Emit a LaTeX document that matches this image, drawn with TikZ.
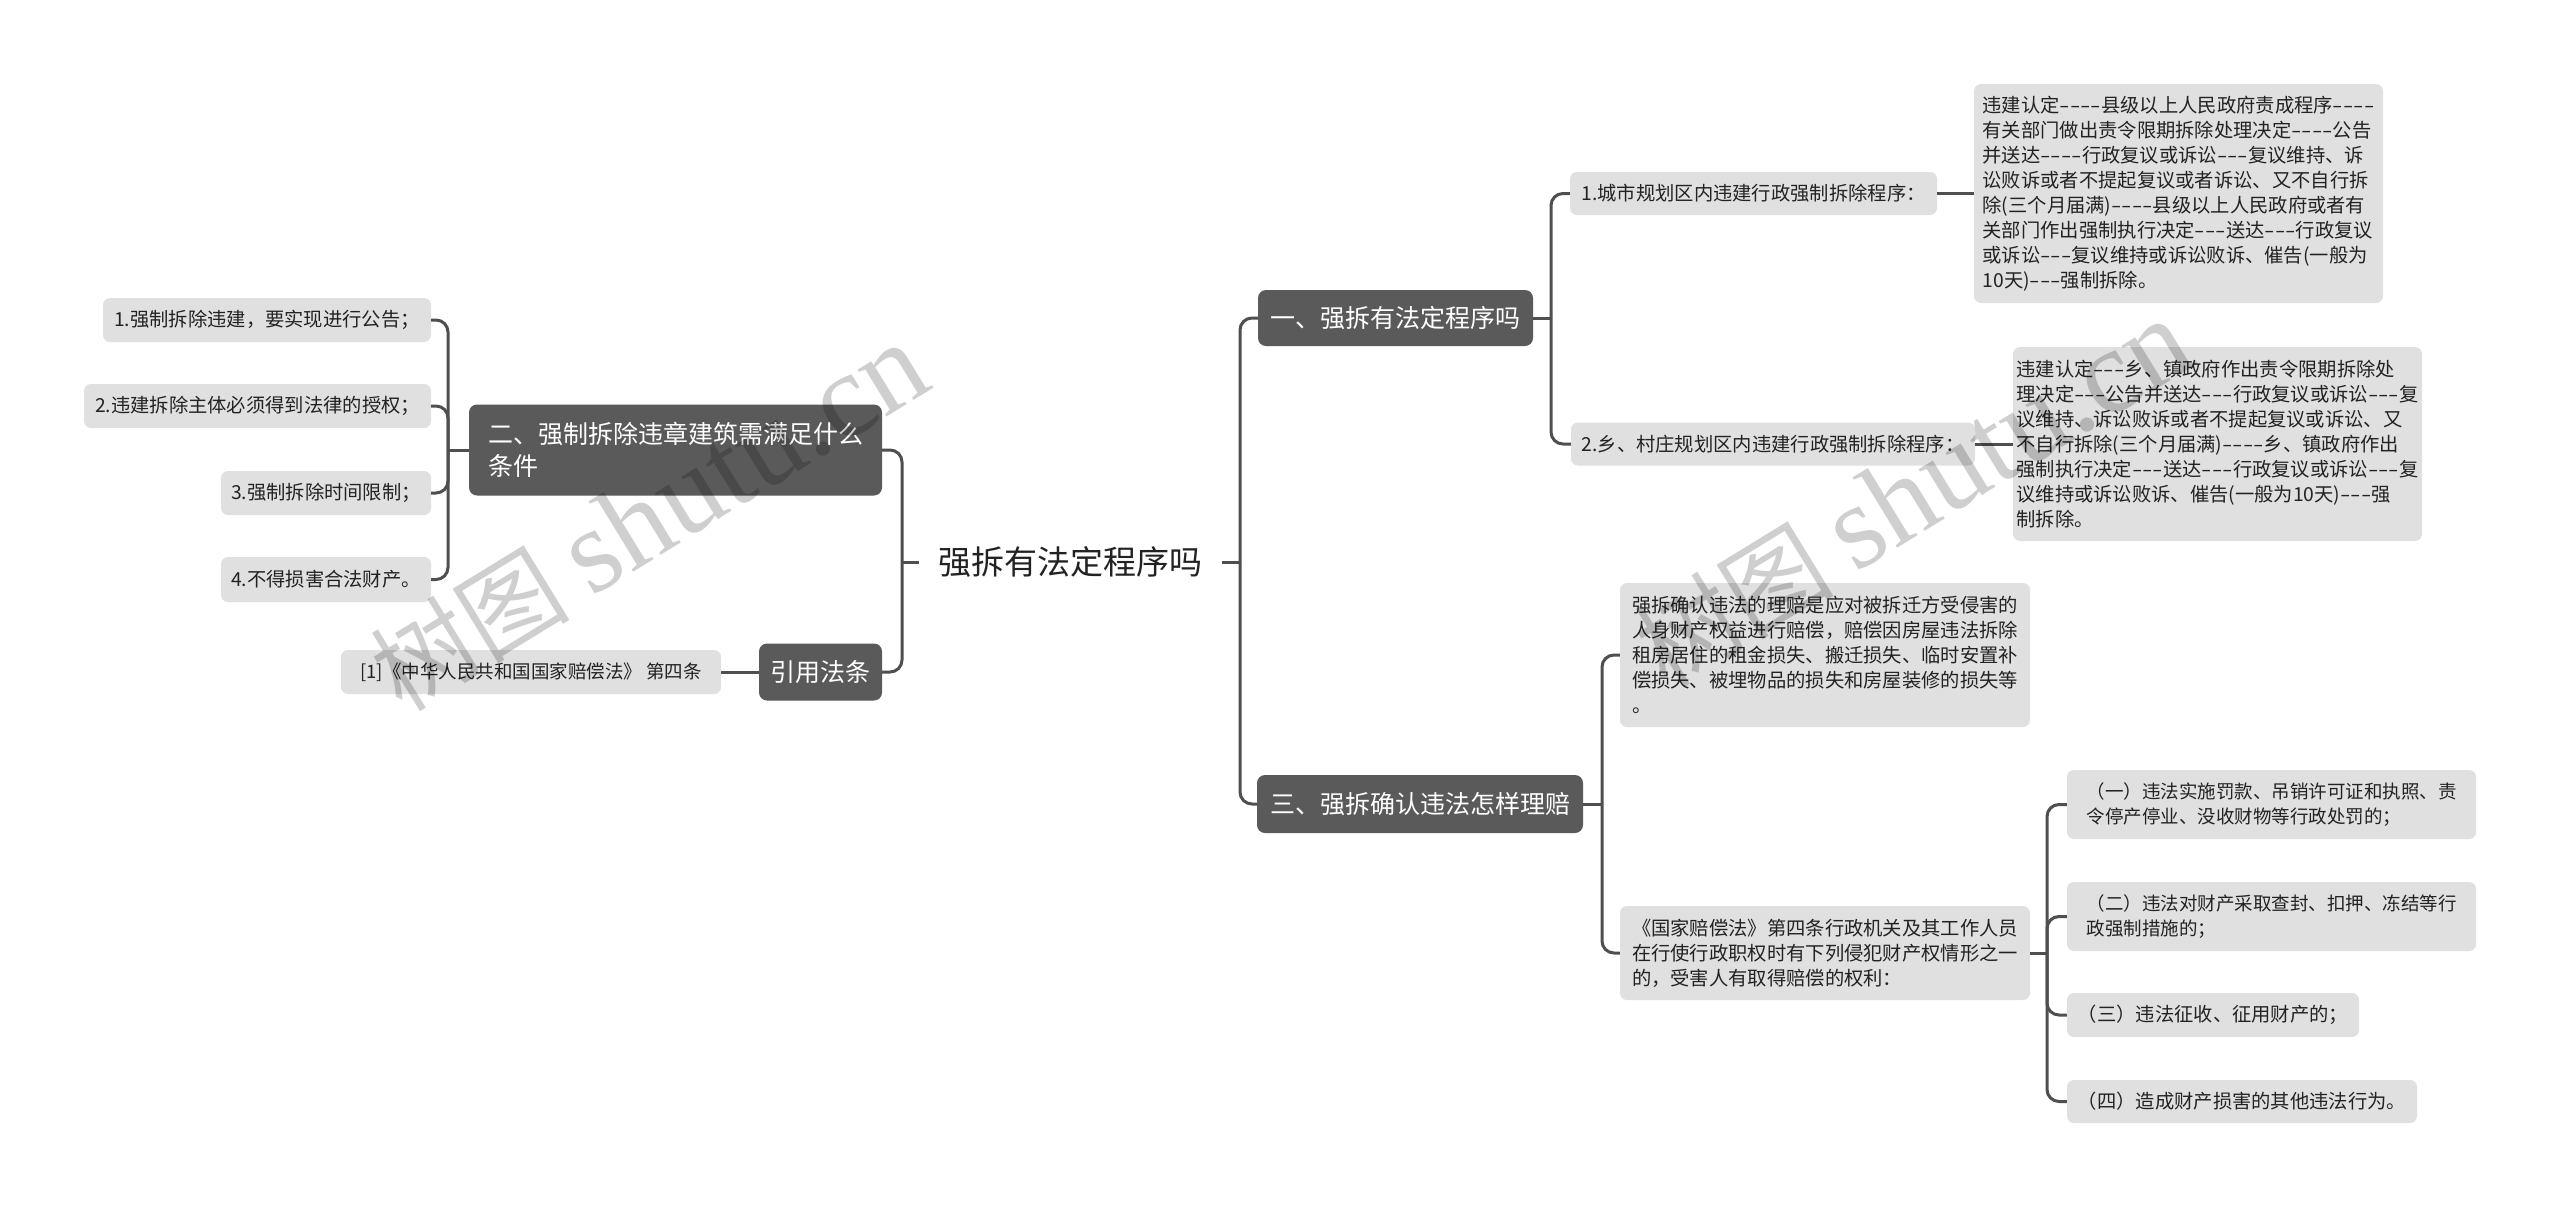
\documentclass[tikz,border=0pt]{standalone}
\usepackage{graphicx}
\usepackage{fontspec}
\setmainfont{Noto Sans CJK SC}
\newfontfamily\wmserif{Liberation Serif}
\newcommand\hy{\scalebox{1.55}[1]{-}}
\definecolor{leafc}{HTML}{E0E0E0}
\definecolor{darkc}{HTML}{5A5A5A}
\definecolor{linec}{HTML}{4F4F4F}
\definecolor{txtc}{HTML}{222222}
\begin{document}
\begin{tikzpicture}[x=1pt,y=-1pt,
  leaf/.style={fill=leafc, rounded corners=7pt, inner sep=0pt, align=left, text=txtc, font=\fontsize{19.3pt}{25pt}\selectfont},
  dark/.style={fill=darkc, rounded corners=8pt, inner sep=0pt, align=left, text=white, font=\fontsize{25pt}{32pt}\selectfont},
  conn/.style={draw=linec, line width=3pt, rounded corners=12pt},
  wm/.style={opacity=0.19, text=black, rotate=31.5, inner sep=0pt}]
\useasboundingbox (0,0) rectangle (2560,1208);
\fill[white] (0,0) rectangle (2560,1208);

% root
\node[inner sep=0pt, minimum width=303pt, minimum height=40pt, text=txtc, font=\fontsize{33pt}{40pt}\selectfont] (root) at (1070.5,562) {强拆有法定程序吗};

% right side
\node[dark, minimum width=275pt, minimum height=56pt] (n1) at (1395.5,318) {一、强拆有法定程序吗};
\node[dark, minimum width=326pt, minimum height=58pt] (n3) at (1420,804) {三、强拆确认违法怎样理赔};

\node[leaf, minimum width=367pt, minimum height=43pt] (a1) at (1753.5,193.5) {1.城市规划区内违建行政强制拆除程序：};
\node[leaf, minimum width=404pt, minimum height=43pt] (a2) at (1773,444) {2.乡、村庄规划区内违建行政强制拆除程序：};

\node[leaf, minimum width=409pt, minimum height=219pt] (b1) at (2178.5,193.5) {违建认定\hy\hy\hy\hy 县级以上人民政府责成程序\hy\hy\hy\hy\\有关部门做出责令限期拆除处理决定\hy\hy\hy\hy 公告\\并送达\hy\hy\hy\hy 行政复议或诉讼\hy\hy\hy 复议维持、诉\\讼败诉或者不提起复议或者诉讼、又不自行拆\\除(三个月届满)\hy\hy\hy\hy 县级以上人民政府或者有\\关部门作出强制执行决定\hy\hy\hy 送达\hy\hy\hy 行政复议\\或诉讼\hy\hy\hy 复议维持或诉讼败诉、催告(一般为\\10天)\hy\hy\hy 强制拆除。};
\node[leaf, minimum width=409pt, minimum height=194pt] (b2) at (2217.5,444) {违建认定\hy\hy\hy 乡、镇政府作出责令限期拆除处\\理决定\hy\hy\hy 公告并送达\hy\hy\hy 行政复议或诉讼\hy\hy\hy 复\\议维持、诉讼败诉或者不提起复议或诉讼、又\\不自行拆除(三个月届满)\hy\hy\hy\hy 乡、镇政府作出\\强制执行决定\hy\hy\hy 送达\hy\hy\hy 行政复议或诉讼\hy\hy\hy 复\\议维持或诉讼败诉、催告(一般为10天)\hy\hy\hy 强\\制拆除。};

\node[leaf, minimum width=410pt, minimum height=144pt] (c1) at (1825,655) {强拆确认违法的理赔是应对被拆迁方受侵害的\\人身财产权益进行赔偿，赔偿因房屋违法拆除\\租房居住的租金损失、搬迁损失、临时安置补\\偿损失、被埋物品的损失和房屋装修的损失等\\。};
\node[leaf, minimum width=410pt, minimum height=94pt] (c2) at (1825,953) {《国家赔偿法》第四条行政机关及其工作人员\\在行使行政职权时有下列侵犯财产权情形之一\\的，受害人有取得赔偿的权利：};

\node[leaf, minimum width=409pt, minimum height=69pt, font=\fontsize{18.5pt}{25pt}\selectfont] (d1) at (2271.5,804.5) {（一）违法实施罚款、吊销许可证和执照、责\\令停产停业、没收财物等行政处罚的；};
\node[leaf, minimum width=409pt, minimum height=69pt, font=\fontsize{18.5pt}{25pt}\selectfont] (d2) at (2271.5,916.5) {（二）违法对财产采取查封、扣押、冻结等行\\政强制措施的；};
\node[leaf, minimum width=292pt, minimum height=44pt] (d3) at (2213,1015) {（三）违法征收、征用财产的；};
\node[leaf, minimum width=350pt, minimum height=43pt] (d4) at (2242,1101.5) {（四）造成财产损害的其他违法行为。};

% left side
\node[dark, minimum width=413pt, minimum height=91pt] (n2) at (675.5,450) {二、强制拆除违章建筑需满足什么\\条件};
\node[dark, minimum width=123pt, minimum height=57pt] (nref) at (820.5,672) {引用法条};

\node[leaf, minimum width=328pt, minimum height=44pt] (e1) at (267,320) {1.强制拆除违建，要实现进行公告；};
\node[leaf, minimum width=347pt, minimum height=44pt] (e2) at (257.5,406) {2.违建拆除主体必须得到法律的授权；};
\node[leaf, minimum width=210pt, minimum height=44pt] (e3) at (326,493) {3.强制拆除时间限制；};
\node[leaf, minimum width=210pt, minimum height=45pt] (e4) at (326,579.5) {4.不得损害合法财产。};
\node[leaf, minimum width=380pt, minimum height=44pt, font=\fontsize{18.5pt}{25pt}\selectfont] (r1) at (531,672) {[1]《中华人民共和国国家赔偿法》 第四条};

% junctions
\coordinate (jr) at (1240,562);
\coordinate (jl) at (902,562);
\coordinate (j1) at (1551,318);
\coordinate (j3) at (1602,804);
\coordinate (j4) at (2047,953);
\coordinate (j2) at (448,450);

% connectors
\draw[conn] (root.east) -- (jr);
\draw[conn] (jr) |- (n1.west);
\draw[conn] (jr) |- (n3.west);
\draw[conn] (n1.east) -- (j1);
\draw[conn] (j1) |- (a1.west);
\draw[conn] (j1) |- (a2.west);
\draw[conn] (a1.east) -- (b1.west);
\draw[conn] (a2.east) -- (b2.west);
\draw[conn] (n3.east) -- (j3);
\draw[conn] (j3) |- (c1.west);
\draw[conn] (j3) |- (c2.west);
\draw[conn] (c2.east) -- (j4);
\draw[conn] (j4) |- (d1.west);
\draw[conn] (j4) |- (d2.west);
\draw[conn] (j4) |- (d3.west);
\draw[conn] (j4) |- (d4.west);

\draw[conn] (root.west) -- (jl);
\draw[conn] (jl) |- (n2.east);
\draw[conn] (jl) |- (nref.east);
\draw[conn] (n2.west) -- (j2);
\draw[conn] (j2) |- (e1.east);
\draw[conn] (j2) |- (e2.east);
\draw[conn] (j2) |- (e3.east);
\draw[conn] (j2) |- (e4.east);
\draw[conn] (nref.west) -- (r1.east);

% watermarks
\node[wm] (wm1) at (649,518) {\fontsize{100pt}{100pt}\selectfont 树图 \wmserif\fontsize{120pt}{120pt}\selectfont shutu.cn};
\node[wm] (wm2) at (1913,494) {\fontsize{100pt}{100pt}\selectfont 树图 \wmserif\fontsize{120pt}{120pt}\selectfont shutu.cn};
\end{tikzpicture}
\end{document}
